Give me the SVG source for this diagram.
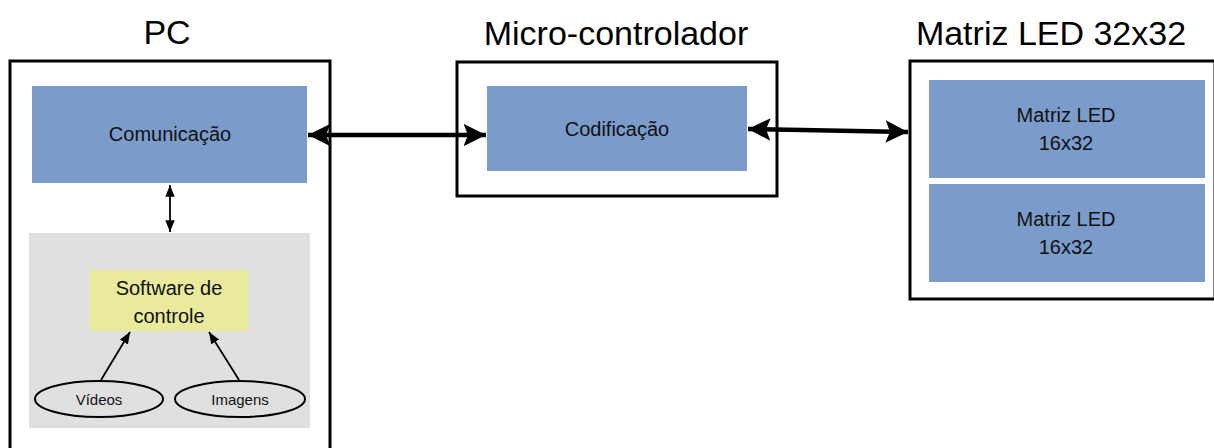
<svg xmlns="http://www.w3.org/2000/svg" width="1214" height="448" viewBox="0 0 1214 448">
  <style>
    .frame { fill: #ffffff; stroke: #000000; stroke-width: 3; }
    .block { fill: #7B9CCB; }
    .title { font-family: "Liberation Sans", Arial, sans-serif; font-size: 34px; fill: #000; text-anchor: middle; }
    .lbl { font-family: "Liberation Sans", Arial, sans-serif; font-size: 20px; fill: #111; text-anchor: middle; }
    .small { font-family: "Liberation Sans", Arial, sans-serif; font-size: 15px; fill: #111; text-anchor: middle; }
    .thick { stroke: #000; stroke-width: 4.5; fill: none; }
    .thin { stroke: #000; stroke-width: 1.8; fill: none; }
  </style>
  <defs>
    <marker id="bigHead" viewBox="0 0 10 10" refX="10" refY="5" markerWidth="5" markerHeight="5" orient="auto-start-reverse" markerUnits="strokeWidth">
      <path d="M0,0 L10,5 L0,10 L2,5 Z" fill="#000"/>
    </marker>
    <marker id="smallHead" viewBox="0 0 10 10" refX="10" refY="5" markerWidth="6.5" markerHeight="6.5" orient="auto-start-reverse" markerUnits="strokeWidth">
      <path d="M0,1 L10,5 L0,9 Z" fill="#000"/>
    </marker>
  </defs>
  <rect width="1214" height="448" fill="#ffffff"/>

  <!-- PC -->
  <g id="pc">
    <text class="title" x="167" y="44">PC</text>
    <rect class="frame" x="10" y="61" width="320" height="400"/>
    <rect x="29" y="233" width="281" height="195" fill="#E0E0E0"/>
  </g>
  <g id="comunicacao">
    <rect class="block" x="32" y="86" width="275" height="97"/>
    <text class="lbl" x="170" y="141">Comunicação</text>
  </g>
  <g id="software">
    <rect x="90" y="270" width="158" height="61" fill="#E9EA9C"/>
    <text class="lbl" x="169" y="295">Software de</text>
    <text class="lbl" x="169" y="323">controle</text>
  </g>
  <g id="videos">
    <ellipse cx="99" cy="399" rx="64" ry="18" fill="none" stroke="#000" stroke-width="2"/>
    <text class="small" x="99" y="405">Vídeos</text>
  </g>
  <g id="imagens">
    <ellipse cx="240" cy="399" rx="65" ry="18" fill="none" stroke="#000" stroke-width="2"/>
    <text class="small" x="240" y="405">Imagens</text>
  </g>

  <!-- Micro-controlador -->
  <g id="microcontrolador">
    <text class="title" x="616" y="45">Micro-controlador</text>
    <rect class="frame" x="457" y="62" width="320" height="134"/>
  </g>
  <g id="codificacao">
    <rect class="block" x="487" y="86" width="260" height="85"/>
    <text class="lbl" x="617" y="136">Codificação</text>
  </g>

  <!-- Matriz LED 32x32 -->
  <g id="matriz">
    <text class="title" x="1051" y="45">Matriz LED 32x32</text>
    <rect class="frame" x="910" y="61" width="305" height="238"/>
  </g>
  <g id="matriz-a">
    <rect class="block" x="929" y="80" width="276" height="98"/>
    <text class="lbl" x="1066" y="122">Matriz LED</text>
    <text class="lbl" x="1066" y="150">16x32</text>
  </g>
  <g id="matriz-b">
    <rect class="block" x="929" y="184" width="276" height="98"/>
    <text class="lbl" x="1066" y="226">Matriz LED</text>
    <text class="lbl" x="1066" y="254">16x32</text>
  </g>

  <!-- connectors -->
  <g id="connectors">
    <line class="thick" x1="308" y1="135" x2="486" y2="135" marker-start="url(#bigHead)" marker-end="url(#bigHead)"/>
    <line class="thick" x1="748" y1="129" x2="908" y2="132" marker-start="url(#bigHead)" marker-end="url(#bigHead)"/>
    <line class="thin" x1="170" y1="185" x2="170" y2="232" marker-start="url(#smallHead)" marker-end="url(#smallHead)"/>
    <line class="thin" x1="101" y1="380" x2="130" y2="332" marker-end="url(#smallHead)"/>
    <line class="thin" x1="239" y1="380" x2="209" y2="332" marker-end="url(#smallHead)"/>
  </g>
</svg>
